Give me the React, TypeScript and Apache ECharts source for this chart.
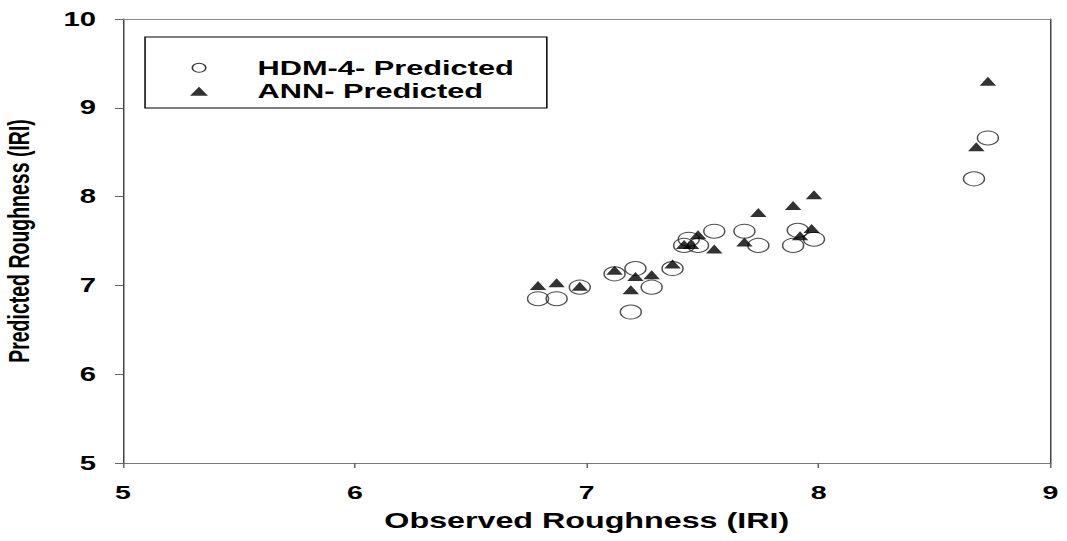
import React, { useEffect, useRef } from "react";
import * as echarts from "echarts";

// HDM-4 predicted (circles)
const hdmObserved = [6.79, 6.87, 6.97, 7.12, 7.19, 7.21, 7.28, 7.37, 7.42, 7.44, 7.48, 7.55, 7.68, 7.74, 7.89, 7.91, 7.98, 8.67, 8.73];
const hdmPredicted = [6.85, 6.85, 6.98, 7.13, 6.70, 7.19, 6.98, 7.19, 7.45, 7.52, 7.45, 7.61, 7.61, 7.45, 7.45, 7.62, 7.52, 8.20, 8.66];

// ANN predicted (triangles)
const annObserved = [6.79, 6.87, 6.97, 7.12, 7.19, 7.21, 7.28, 7.37, 7.42, 7.45, 7.48, 7.55, 7.68, 7.74, 7.89, 7.92, 7.97, 7.98, 8.68, 8.73];
const annPredicted = [7.00, 7.03, 6.99, 7.17, 6.95, 7.10, 7.12, 7.24, 7.46, 7.46, 7.57, 7.41, 7.49, 7.82, 7.90, 7.56, 7.64, 8.02, 8.56, 9.30];

const seriesNames = ["HDM-4- Predicted", "ANN- Predicted"];
const xAxisTitle = "Observed Roughness (IRI)";
const yAxisTitle = "Predicted Roughness (IRI)";

const STRETCH = 1.5;
const FONT = "'Liberation Sans', Arial, Helvetica, sans-serif";

export default function App() {
  const ref = useRef<HTMLDivElement>(null);

  useEffect(() => {
    if (!ref.current) return;
    const chart = echarts.init(ref.current, undefined, { renderer: "svg" });
    const zip = (xs: number[], ys: number[]) => xs.map((x, i) => [x, ys[i]]);
    chart.setOption({
      animation: false,
      backgroundColor: "#fff",
      grid: { left: 82, right: 10.67, top: 19, bottom: 78, containLabel: false, outerBoundsMode: "none" },
      legend: {
        left: 96.7,
        top: 37,
        orient: "vertical",
        itemGap: 0,
        itemWidth: 12,
        itemHeight: 9,
        symbolKeepAspect: false,
        borderColor: "#000",
        borderWidth: 1,
        padding: [19, 22, 5, 30],
        selectedMode: false,
        textStyle: {
          fontFamily: FONT,
          fontWeight: "bold",
          fontSize: 20.5,
          color: "#000",
          lineHeight: 23.5,
          padding: [0, 0, 0, 28],
        },
        data: [
          {
            name: seriesNames[0],
            icon: "circle",
            itemStyle: { color: "rgba(0,0,0,0)", borderColor: "#000", borderWidth: 1 },
          },
          { name: seriesNames[1], icon: "triangle", itemStyle: { color: "#000" } },
        ],
      },
      xAxis: [
        {
          type: "value",
          min: 5,
          max: 9,
          interval: 1,
          name: xAxisTitle,
          nameLocation: "middle",
          nameGap: 47,
          nameTextStyle: { fontFamily: FONT, fontWeight: "bold", fontSize: 21.5, color: "#000" },
          axisLine: { show: true, onZero: false, lineStyle: { color: "#777", width: 1 } },
          axisTick: { show: true, length: 5, lineStyle: { color: "#666" } },
          axisLabel: { margin: 20, fontFamily: FONT, fontWeight: "bold", fontSize: 19, color: "#000" },
          splitLine: { show: false },
        },
        {
          type: "value",
          position: "top",
          min: 5,
          max: 9,
          interval: 1,
          axisLine: { show: true, onZero: false, lineStyle: { color: "#888", width: 1 } },
          axisTick: { show: false },
          axisLabel: { show: false },
          splitLine: { show: false },
        },
      ],
      yAxis: [
        {
          type: "value",
          min: 5,
          max: 10,
          interval: 1,
          name: yAxisTitle,
          nameLocation: "middle",
          nameGap: 59.5,
          nameTextStyle: { fontFamily: FONT, fontWeight: "bold", fontSize: 19.5, color: "#000" },
          axisLine: { show: true, onZero: false, lineStyle: { color: "#444", width: 1 } },
          axisTick: { show: true, length: 5.3, lineStyle: { color: "#666" } },
          axisLabel: { margin: 18, fontFamily: FONT, fontWeight: "bold", fontSize: 19.5, color: "#000" },
          splitLine: { show: false },
        },
        {
          type: "value",
          position: "right",
          min: 5,
          max: 10,
          interval: 1,
          axisLine: { show: true, onZero: false, lineStyle: { color: "#444", width: 1 } },
          axisTick: { show: false },
          axisLabel: { show: false },
          splitLine: { show: false },
        },
      ],
      series: [
        {
          name: seriesNames[0],
          type: "scatter",
          symbol: "circle",
          symbolSize: 14,
          data: zip(hdmObserved, hdmPredicted),
          itemStyle: { color: "rgba(0,0,0,0)", borderColor: "#222", borderWidth: 1 },
          z: 2,
        },
        {
          name: seriesNames[1],
          type: "scatter",
          symbol: "triangle",
          symbolSize: [11, 9],
          data: zip(annObserved, annPredicted),
          itemStyle: { color: "#000" },
          z: 3,
        },
      ],
    });
    return () => chart.dispose();
  }, []);

  return (
    <div
      style={{
        position: "fixed",
        left: 0,
        top: 0,
        width: 1067,
        height: 541,
        overflow: "hidden",
        background: "#fff",
      }}
    >
      <div
        ref={ref}
        style={{
          width: 1067 / STRETCH,
          height: 541,
          transform: `scaleX(${STRETCH})`,
          transformOrigin: "0 0",
        }}
      />
    </div>
  );
}
